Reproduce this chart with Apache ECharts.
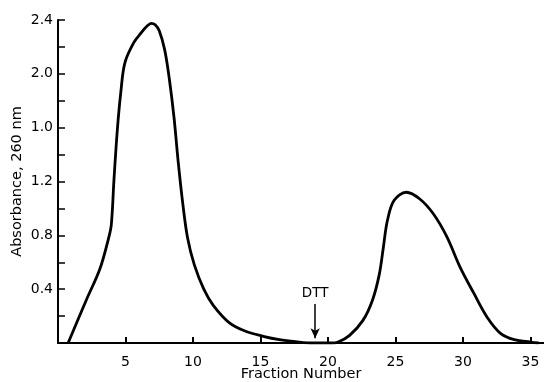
<!DOCTYPE html>
<html>
<head>
<meta charset="utf-8">
<script src="https://cdn.jsdelivr.net/npm/echarts@6/dist/echarts.min.js"></script>
<style>
  html, body { margin: 0; padding: 0; background: #fff; }
  #chart { width: 544px; height: 382px; }
</style>
</head>
<body>
<div id="chart"></div>
<script>
// Fraction number vs absorbance
const fractions = [0.75, 2.1, 3.1, 3.75, 3.95, 4.15, 4.4, 4.65, 4.95, 5.6, 6.2, 6.6, 6.9, 7.2, 7.5, 7.9, 8.25, 8.6, 8.9, 9.25,
  9.6, 10.1, 10.8, 11.5, 12.7, 13.9, 15.2, 16.4, 17.6, 18.9, 20.3, 20.7, 21.6, 22.6, 23.3, 23.8, 24.1, 24.4, 24.9,
  25.8, 26.8, 27.8, 28.8, 29.8, 30.8, 31.8, 32.8, 33.8, 35.0, 35.6];
const absorbance = [0, 0.32, 0.55, 0.78, 0.88, 1.22, 1.59, 1.86, 2.08, 2.23, 2.31, 2.355, 2.375, 2.365, 2.32, 2.18, 1.96, 1.67, 1.35, 1.03,
  0.78, 0.58, 0.40, 0.28, 0.15, 0.087, 0.05, 0.025, 0.01, 0, 0, 0.005, 0.057, 0.17, 0.32, 0.51, 0.71, 0.91, 1.06,
  1.12, 1.07, 0.96, 0.79, 0.56, 0.37, 0.19, 0.07, 0.025, 0.007, 0];

// y tick labels as printed (the 1.6 position is labelled "1.0" in the original)
const yTickValues = [0.4, 0.8, 1.2, 1.6, 2.0, 2.4];
const yTickLabels = ['0.4', '0.8', '1.2', '1.0', '2.0', '2.4'];

// DTT addition marker
const dttFraction = 19.05;
const dttArrow = [0.29, 0.035];

const chart = echarts.init(document.getElementById('chart'));

const font = 'DejaVu Sans, sans-serif';

chart.setOption({
  animation: false,
  grid: { left: 58, right: 0, top: 20, bottom: 39, outerBoundsMode: 'none' },
  xAxis: {
    type: 'value',
    min: 0,
    max: 36,
    interval: 5,
    name: 'Fraction Number',
    nameLocation: 'middle',
    nameGap: 24,
    nameMoveOverlap: false,
    nameTextStyle: { color: '#000', fontSize: 14.5, fontFamily: font },
    axisLine: { lineStyle: { color: '#000', width: 2 } },
    axisTick: { inside: true, length: 6, lineStyle: { color: '#000', width: 2 } },
    axisLabel: {
      color: '#000', fontSize: 14, fontFamily: font, margin: 12,
      formatter: (v) => (v === 0 ? '' : String(v))
    },
    splitLine: { show: false }
  },
  yAxis: {
    type: 'value',
    min: 0,
    max: 2.4,
    interval: 0.2,
    name: 'Absorbance, 260 nm',
    nameLocation: 'middle',
    nameRotate: 90,
    nameGap: 33,
    nameMoveOverlap: false,
    nameTextStyle: { color: '#000', fontSize: 14.5, fontFamily: font },
    axisLine: { lineStyle: { color: '#000', width: 2 } },
    axisTick: { inside: true, length: 7, lineStyle: { color: '#000', width: 1.5 } },
    axisLabel: {
      color: '#000', fontSize: 14, fontFamily: font, margin: 5,
      formatter: (v) => {
        const i = yTickValues.findIndex((t) => Math.abs(t - v) < 1e-6);
        return i >= 0 ? yTickLabels[i] : '';
      }
    },
    splitLine: { show: false }
  },
  series: [
    {
      type: 'line',
      data: fractions.map((x, i) => [x, absorbance[i]]),
      smooth: 0.35,
      showSymbol: false,
      lineStyle: { color: '#000', width: 2.8 },
      markLine: {
        silent: true,
        symbol: ['none', 'arrow'],
        symbolSize: [7, 10],
        lineStyle: { color: '#000', width: 1.5, type: 'solid' },
        label: {
          show: true,
          position: 'start',
          formatter: 'DTT',
          color: '#000',
          fontSize: 13.5,
          fontFamily: font,
          distance: 3
        },
        data: [[{ coord: [dttFraction, dttArrow[0]] }, { coord: [dttFraction, dttArrow[1]] }]]
      }
    }
  ]
});
</script>
</body>
</html>
